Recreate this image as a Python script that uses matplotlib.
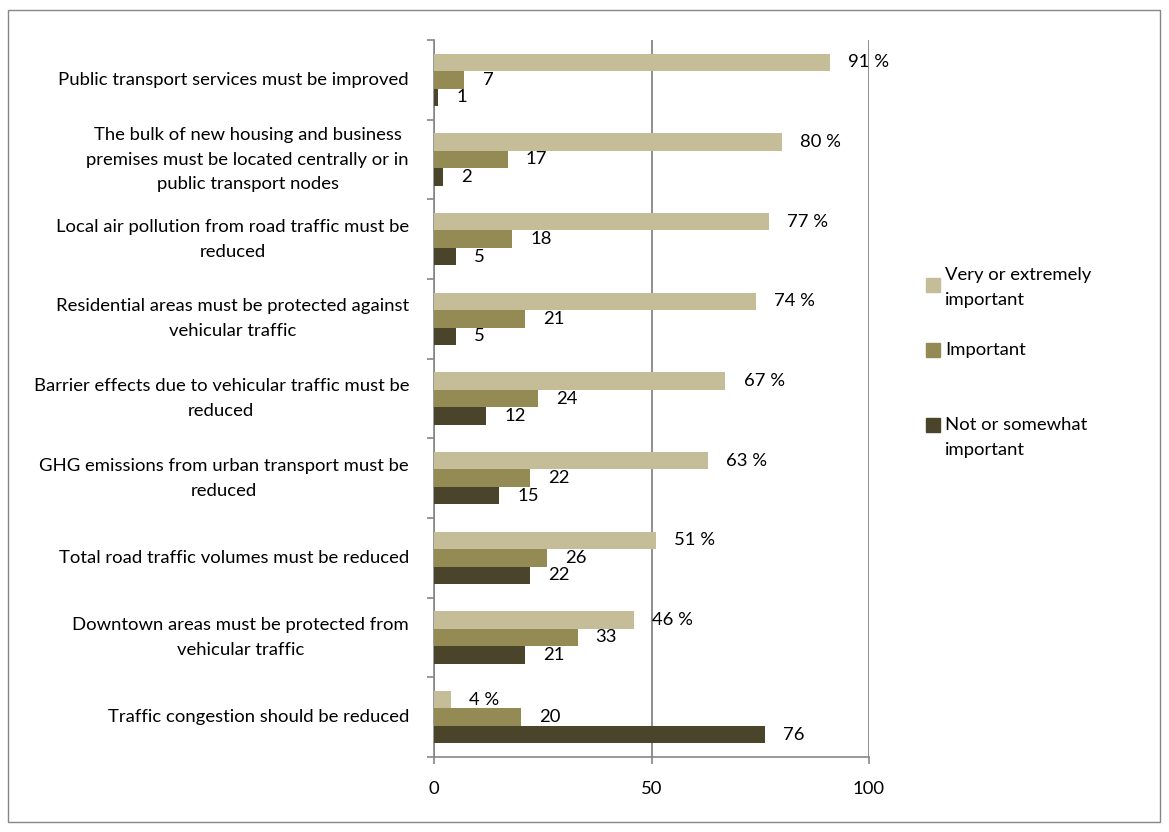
import matplotlib.pyplot as plt
from matplotlib.patches import Rectangle
import numpy as np

plt.rcParams['font.family'] = ['Lato', 'DejaVu Sans']

categories = [
    "Public transport services must be improved",
    "The bulk of new housing and business\npremises must be located centrally or in\npublic transport nodes",
    "Local air pollution from road traffic must be\nreduced",
    "Residential areas must be protected against\nvehicular traffic",
    "Barrier effects due to vehicular traffic must be\nreduced",
    "GHG emissions from urban transport must be\nreduced",
    "Total road traffic volumes must be reduced",
    "Downtown areas must be protected from\nvehicular traffic",
    "Traffic congestion should be reduced",
]
very = [91, 80, 77, 74, 67, 63, 51, 46, 4]
important = [7, 17, 18, 21, 24, 22, 26, 33, 20]
not_imp = [1, 2, 5, 5, 12, 15, 22, 21, 76]
series_names = ["Very or extremely\nimportant", "Important", "Not or somewhat\nimportant"]
colors = ['#C4BD97', '#948A54', '#4A452A']
xticks = [0, 50, 100]

fs = 13.3
ls = 1.67
grey = '#868686'

fig = plt.figure(figsize=(11.69, 8.32), dpi=100)
fig.patches.append(Rectangle((8 / 1169, 10 / 832), 1152 / 1169, 812 / 832, transform=fig.transFigure,
                             fill=False, edgecolor=grey, linewidth=1.0))
ax = fig.add_axes([434 / 1169, 75 / 832, 435 / 1169, 717 / 832])

y = np.arange(len(categories))
h = 0.22
for vals, off, col, pct in [(very, -h, colors[0], True), (important, 0, colors[1], False),
                            (not_imp, h, colors[2], False)]:
    ax.barh(y + off, vals, height=h, color=col, zorder=3)
    for yi, v in zip(y, vals):
        txt = f"{v} %" if pct else f"{v}"
        ax.annotate(txt, (v, yi + off), xytext=(13, 0), textcoords='offset points',
                    va='center', ha='left', fontsize=fs, zorder=4)

# category labels, centred lines like the original
for yi, lab in zip(y, categories):
    ax.annotate(lab, (0, yi), xycoords=('axes fraction', 'data'),
                xytext=(-18, 0), textcoords='offset points',
                ha='right', va='center', multialignment='center', fontsize=fs,
                linespacing=ls, annotation_clip=False)

ax.set_xlim(0, 100)
ax.set_ylim(len(categories) - 0.5, -0.5)
ax.set_xticks(xticks)
ax.set_xticklabels([str(t) for t in xticks], fontsize=fs)
ax.xaxis.grid(True, color=grey, linewidth=1.3, zorder=0)
ax.set_yticks(np.arange(len(categories) + 1) - 0.5)
ax.set_yticklabels([])
ax.tick_params(axis='y', length=5, color=grey, width=1.2)
ax.tick_params(axis='x', length=5, color=grey, width=1.2, pad=12)
for s in ['top', 'right']:
    ax.spines[s].set_visible(False)
for s in ['left', 'bottom']:
    ax.spines[s].set_color(grey)
    ax.spines[s].set_linewidth(1.2)

# legend drawn by hand to match uneven spacing
sq_y = [285, 350, 425]
txt_y = [267, 342, 417]
for name, col, sy, ty in zip(series_names, colors, sq_y, txt_y):
    fig.patches.append(Rectangle((926 / 1169, 1 - (sy + 7) / 832), 14 / 1169, 14 / 832,
                                 transform=fig.transFigure, color=col))
    fig.text(945 / 1169, 1 - ty / 832, name, fontsize=fs, va='top', ha='left',
             linespacing=ls)

fig.savefig('out.png', dpi=100)
